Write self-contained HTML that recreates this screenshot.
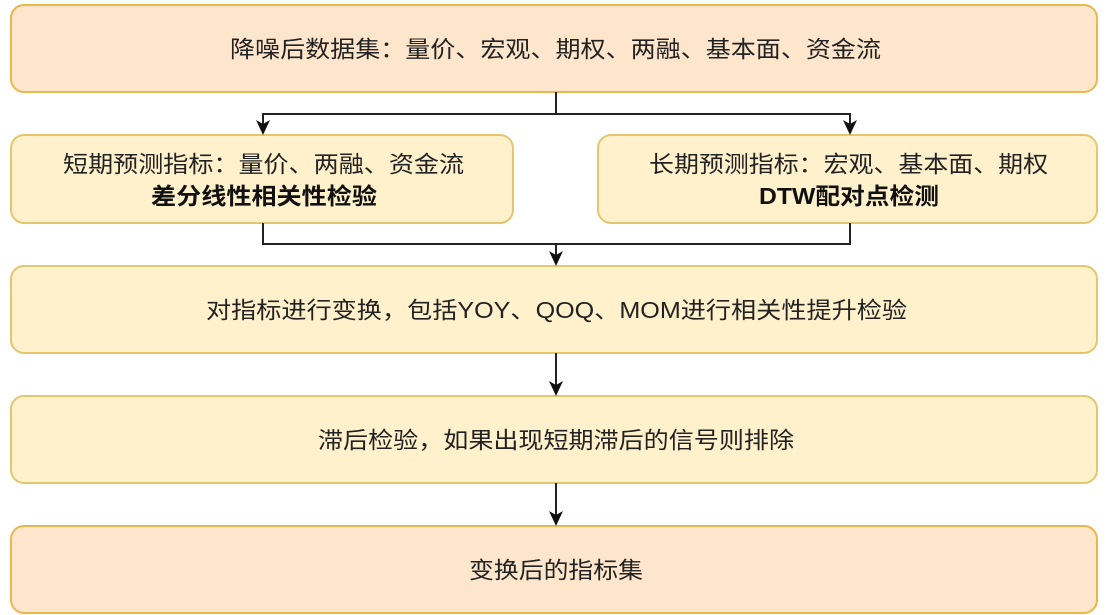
<!DOCTYPE html>
<html><head><meta charset="utf-8"><style>
body{margin:0;background:#fff;}
svg{display:block;}
text{font-family:"Liberation Sans","Noto Sans CJK SC",sans-serif;font-size:23px;fill:#222;}
.b{font-weight:bold;fill:#111;}
</style></head><body>
<svg width="1107" height="615" viewBox="0 0 1107 615">
<g stroke-width="2">
<rect x="11" y="5" width="1086" height="87" rx="13" fill="#fee6cc" stroke="#e8b84e"/>
<rect x="11" y="135" width="502" height="88" rx="13" fill="#fff1cc" stroke="#e3c66e"/>
<rect x="598" y="135" width="499" height="88" rx="13" fill="#fff1cc" stroke="#e3c66e"/>
<rect x="11" y="266" width="1086" height="87" rx="13" fill="#fff1cc" stroke="#e3c66e"/>
<rect x="11" y="396" width="1086" height="87" rx="13" fill="#fff1cc" stroke="#e3c66e"/>
<rect x="11" y="526" width="1086" height="87" rx="13" fill="#fee6cc" stroke="#e8b84e"/>
</g>
<g stroke="#222" stroke-width="2" fill="none">
<path d="M556,92 V114"/>
<path d="M263,124 V114 H850 V124"/>
<path d="M263,223 V244 H850 V223"/>
<path d="M556,244 V255"/>
<path d="M556,353 V385"/>
<path d="M556,483 V515"/>
</g>
<g fill="#111">
<path d="M256,120 L263,124 L270,120 L263,135 Z"/>
<path d="M843,120 L850,124 L857,120 L850,135 Z"/>
<path d="M549,251 L556,255 L563,251 L556,266 Z"/>
<path d="M549,381 L556,385 L563,381 L556,396 Z"/>
<path d="M549,511 L556,515 L563,511 L556,526 Z"/>
</g>
<text x="230" y="57" textLength="651" lengthAdjust="spacingAndGlyphs">降噪后数据集：量价、宏观、期权、两融、基本面、资金流</text>
<text x="63" y="172" textLength="401" lengthAdjust="spacingAndGlyphs">短期预测指标：量价、两融、资金流</text>
<text x="151" y="204" class="b" textLength="226" lengthAdjust="spacingAndGlyphs">差分线性相关性检验</text>
<text x="649" y="172" textLength="399" lengthAdjust="spacingAndGlyphs">长期预测指标：宏观、基本面、期权</text>
<text x="759" y="204" class="b" textLength="180" lengthAdjust="spacingAndGlyphs">DTW配对点检测</text>
<text x="206" y="318" textLength="701" lengthAdjust="spacingAndGlyphs">对指标进行变换，包括YOY、QOQ、MOM进行相关性提升检验</text>
<text x="318" y="448" textLength="476" lengthAdjust="spacingAndGlyphs">滞后检验，如果出现短期滞后的信号则排除</text>
<text x="469" y="578" textLength="174" lengthAdjust="spacingAndGlyphs">变换后的指标集</text>
</svg>
</body></html>
